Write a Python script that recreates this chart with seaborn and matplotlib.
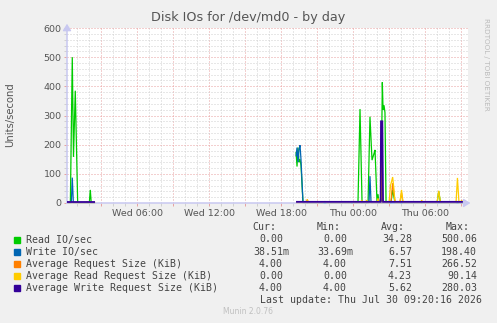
import numpy as np
import pandas as pd
import matplotlib
matplotlib.use("Agg")
import matplotlib.pyplot as plt
from matplotlib.ticker import MultipleLocator, FuncFormatter
from matplotlib.patches import Rectangle
import seaborn as sns

# ---------------- data (time in hours since Wed 00:00) ----------------
series_names = ["Read IO/sec", "Write IO/sec", "Average Request Size (KiB)",
                "Average Read Request Size (KiB)", "Average Write Request Size (KiB)"]
series_colors = ["#00CC00", "#0066B3", "#FF8000", "#FFCC00", "#330099"]

read_t_a = [0.14, 0.42, 0.58, 0.68, 0.83, 1.03, 2.00, 2.08, 2.16, 2.45]
read_v_a = [0, 0, 500, 158, 385, 0, 0, 45, 0, 0]
read_t_b = [19.23, 19.31, 19.39, 19.48, 19.56, 19.64, 19.81, 24.39, 24.56, 24.73,
            25.23, 25.39, 25.56, 25.73, 25.81, 25.98, 26.06, 26.14, 26.31, 26.42,
            26.48, 26.56, 26.64, 26.73, 27.14, 27.28, 27.48, 30.98, 31.12, 31.27, 33.33]
read_v_b = [175, 125, 190, 140, 150, 130, 0, 0, 322, 0,
            0, 296, 147, 170, 182, 0, 30, 0, 0, 414,
            320, 335, 310, 0, 0, 45, 0, 0, 40, 0, 0]

write_t_a = [0.14, 0.50, 0.58, 0.67, 2.45]
write_v_a = [0, 0, 87, 0, 0]
write_t_b = [19.23, 19.31, 19.39, 19.48, 19.56, 19.64, 19.81, 25.31, 25.39, 25.48,
             26.20, 26.28, 26.36, 33.33]
write_v_b = [160, 190, 140, 185, 198, 150, 0, 0, 92, 0, 0, 15, 0, 0.04]

req_t_a = [0.14, 2.45]
req_v_a = [4, 4]
req_t_b = [19.23, 20.10, 20.17, 20.23, 26.28, 26.35, 26.42, 27.14, 27.28, 27.48,
           27.89, 28.02, 28.14, 33.33]
req_v_b = [4, 4, 12, 4, 4, 266, 4, 4, 68, 4, 4, 35, 4, 4]

rreq_t_a = [0.14, 1.75, 1.80, 1.86, 2.45]
rreq_v_a = [0, 0, 6, 0, 0]
rreq_t_b = [19.23, 20.10, 20.17, 20.23, 21.47, 21.64, 21.81, 23.77, 23.87, 23.98,
            24.62, 24.70, 24.78, 25.04, 25.12, 25.20, 25.98, 26.06, 26.14, 26.98,
            27.10, 27.20, 27.28, 27.38, 27.48, 27.89, 28.02, 28.14, 29.62, 29.70,
            29.78, 30.98, 31.12, 31.27, 32.56, 32.68, 32.81, 32.95, 33.03, 33.11, 33.33]
rreq_v_b = [0, 0, 12, 0, 0, 5, 0, 0, 5, 0,
            0, 10, 0, 0, 10, 0, 0, 16, 0, 0,
            60, 75, 89, 50, 0, 0, 45, 0, 0, 10,
            0, 0, 42, 0, 0, 86, 0, 0, 10, 0, 0]

wreq_t_a = [0.14, 2.45]
wreq_v_a = [4, 4]
wreq_t_b = [19.23, 26.28, 26.31, 26.42, 26.48, 33.33]
wreq_v_b = [4, 4, 280, 280, 4, 4]

x_tick_hours = [6, 12, 18, 24, 30]
x_tick_labels = ["Wed 06:00", "Wed 12:00", "Wed 18:00", "Thu 00:00", "Thu 06:00"]

legend_cur = ["0.00", "38.51m", "4.00", "0.00", "4.00"]
legend_min = ["0.00", "33.69m", "4.00", "0.00", "4.00"]
legend_avg = ["34.28", "6.57", "7.51", "4.23", "5.62"]
legend_max = ["500.06", "198.40", "266.52", "90.14", "280.03"]

# ---------------- build long table ----------------
segments = [
    (read_t_a, read_v_a, read_t_b, read_v_b),
    (write_t_a, write_v_a, write_t_b, write_v_b),
    (req_t_a, req_v_a, req_t_b, req_v_b),
    (rreq_t_a, rreq_v_a, rreq_t_b, rreq_v_b),
    (wreq_t_a, wreq_v_a, wreq_t_b, wreq_v_b),
]
rows = []
for name, (ta, va, tb, vb) in zip(series_names, segments):
    for t, v in zip(ta, va):
        rows.append((name, "a", t, v))
    for t, v in zip(tb, vb):
        rows.append((name, "b", t, v))
df = pd.DataFrame(rows, columns=["series", "seg", "t", "v"])

# ---------------- figure ----------------
W, H = 497, 323
fig = plt.figure(figsize=(W / 100, H / 100), dpi=100, facecolor="#F0F0F0")
L, R, T, B = 67, 468, 28, 203
ax = fig.add_axes([L / W, 1 - B / H, (R - L) / W, (B - T) / H])
ax.set_facecolor("white")

t0, t1 = 0.14, 33.56
ax.set_xlim(t0, t1)
ax.set_ylim(0, 600)

# grid
ax.yaxis.set_major_locator(MultipleLocator(100))
ax.yaxis.set_minor_locator(MultipleLocator(20))
ax.xaxis.set_major_locator(MultipleLocator(3))
ax.xaxis.set_minor_locator(MultipleLocator(1))
ax.grid(which="minor", color="#D0D0D0", lw=0.72, ls=(0, (1, 2)))
ax.grid(which="major", color="#E8A0A0", lw=0.72, ls=(0, (1, 2)))
ax.set_axisbelow(True)


def xfmt(v, pos):
    h = int(round(v))
    if h in x_tick_hours:
        return x_tick_labels[x_tick_hours.index(h)]
    return ""


ax.xaxis.set_major_formatter(FuncFormatter(xfmt))
ax.tick_params(axis="both", which="both", labelsize=6.8, labelcolor="#555555",
               length=2, width=0.7, pad=2)
ax.tick_params(axis="x", which="major", color="#E6A0A0")
ax.tick_params(axis="x", which="minor", color="#CFCFCF")
ax.tick_params(axis="y", which="major", color="#E6A0A0")
ax.tick_params(axis="y", which="minor", color="#CFCFCF")

for s in ["top", "right"]:
    ax.spines[s].set_visible(False)
for s in ["left", "bottom"]:
    ax.spines[s].set_color("#C8C8F0")
    ax.spines[s].set_linewidth(1.1)
    ax.spines[s].set_zorder(2.6)

# axis arrows
ax.annotate("", xy=(0, 1.04), xytext=(0, 0.98), xycoords="axes fraction",
            arrowprops=dict(arrowstyle="-|>,head_width=0.25,head_length=0.4",
                            color="#C8C8F0", lw=1.0), annotation_clip=False)
ax.annotate("", xy=(1.013, 0), xytext=(0.99, 0), xycoords="axes fraction",
            arrowprops=dict(arrowstyle="-|>,head_width=0.25,head_length=0.4",
                            color="#C8C8F0", lw=1.0), annotation_clip=False)

# draw series in munin order (purple last, on top of the axis line)
zorders = [2.1, 2.2, 2.3, 2.4, 2.8]
widths = [0.9, 0.9, 0.9, 0.9, 1.3]
for name, col, z, w in zip(series_names, series_colors, zorders, widths):
    sub = df[df["series"] == name]
    n_before = len(ax.lines)
    sns.lineplot(data=sub, x="t", y="v", units="seg", estimator=None,
                 color=col, sort=False, lw=w, legend=False, ax=ax)
    for ln in ax.lines[n_before:]:
        ln.set_zorder(z)
        ln.set_clip_on(False)
        ln.set_solid_capstyle("butt")
        ln.set_solid_joinstyle("miter")
ax.set_xlabel("")
ax.set_ylabel("")

# texts
fig.text(248 / W, 1 - 18 / H, "Disk IOs for /dev/md0 - by day", ha="center",
         va="center", fontsize=9.2, color="#555555")
fig.text(10 / W, 1 - 115 / H, "Units/second", rotation=90, ha="center",
         va="center", fontsize=7.2, color="#555555")
fig.text(486 / W, 1 - 18 / H, "RRDTOOL / TOBI OETIKER", rotation=270,
         ha="center", va="top", fontsize=5.2, color="#BBBBBB")

mono = dict(family="DejaVu Sans Mono", fontsize=7.1, color="#444444", va="center")
hdr_y = 227
for label, xr in zip(["Cur:", "Min:", "Avg:", "Max:"], [276, 341, 405, 470]):
    fig.text(xr / W, 1 - hdr_y / H, label, ha="right", **mono)

row_y = [239.5, 251.7, 263.7, 276, 288]
for i, name in enumerate(series_names):
    y = row_y[i]
    fig.patches.append(Rectangle(((14) / W, 1 - (y + 3) / H), 6 / W, 6 / H,
                                 transform=fig.transFigure, color=series_colors[i],
                                 figure=fig))
    fig.text(26 / W, 1 - y / H, name, ha="left", **mono)
    for vals, xr in zip([legend_cur, legend_min, legend_avg, legend_max],
                        [283, 347, 412, 477]):
        txt = vals[i]
        if txt.endswith("m"):
            fig.text((xr + 6) / W, 1 - y / H, txt, ha="right", **mono)
        else:
            fig.text(xr / W, 1 - y / H, txt, ha="right", **mono)

fig.text(482 / W, 1 - 300 / H, "Last update: Thu Jul 30 09:20:16 2026",
         ha="right", **mono)
fig.text(248 / W, 1 - 312 / H, "Munin 2.0.76", ha="center", va="center",
         fontsize=5.5, color="#C0C0C0")

fig.savefig("out.png", dpi=100, facecolor=fig.get_facecolor())
